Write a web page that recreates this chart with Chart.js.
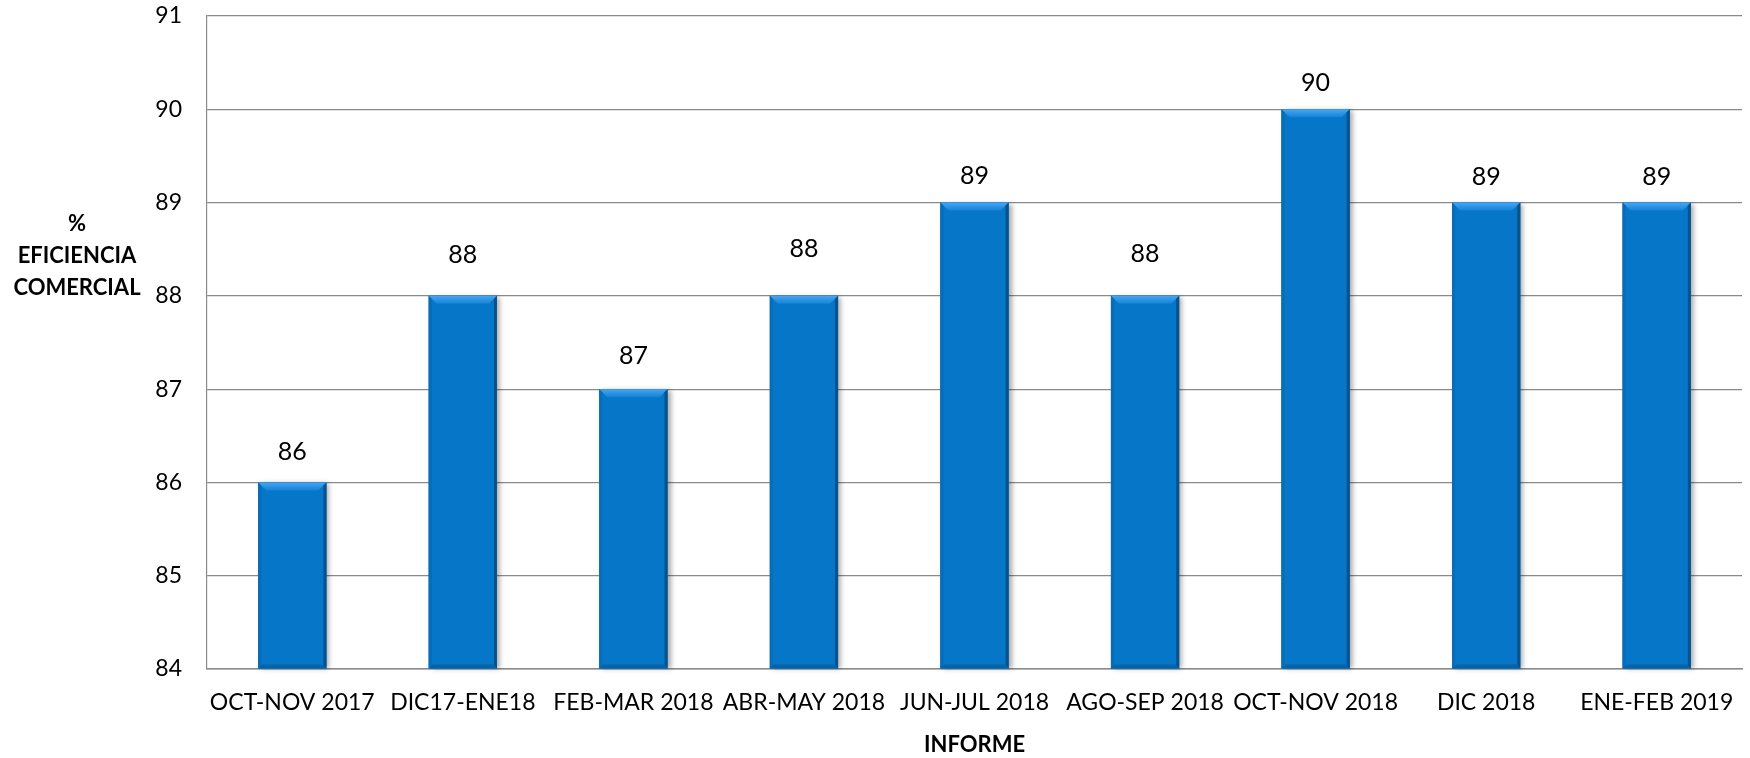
<!DOCTYPE html>
<html>
<head>
<meta charset="utf-8">
<script src="https://cdn.jsdelivr.net/npm/chart.js@4.4.1/dist/chart.umd.min.js"></script>
<style>
  body { margin: 0; background: #fff; }
  #wrap { width: 1750px; height: 758px; }
</style>
</head>
<body>
<div id="wrap"><canvas id="grafico" width="1750" height="758"></canvas></div>
<script>
// Datos
var categorias = ['OCT-NOV 2017', 'DIC17-ENE18', 'FEB-MAR 2018', 'ABR-MAY 2018', 'JUN-JUL 2018',
                  'AGO-SEP 2018', 'OCT-NOV 2018', 'DIC 2018', 'ENE-FEB 2019'];
var eficiencia = [86, 88, 87, 88, 89, 88, 90, 89, 89];
var yMin = 84, yMax = 91, yPaso = 1;
var tituloY = ['%', 'EFICIENCIA', 'COMERCIAL'];
var tituloX = 'INFORME';

// Separacion de cada etiqueta sobre su barra (px)
var elevacion = [30, 41, 33, 47, 27, 42, 26, 26, 26];

var fuente = 'Lato, "Open Sans", sans-serif';
var gris = '#8A8A8A';

// Sombra, bisel y etiquetas de las barras
var biselPlugin = {
    id: 'bisel',
    beforeDatasetsDraw: function(chart) {
        var ctx = chart.ctx;
        ctx.save();
        ctx.shadowColor = 'rgba(0,0,0,0.35)';
        ctx.shadowBlur = 5;
        ctx.shadowOffsetX = 3;
        ctx.shadowOffsetY = 1;
        ctx.fillStyle = '#0676C9';
        chart.getDatasetMeta(0).data.forEach(function(b) {
            ctx.fillRect(b.x - b.width / 2, b.y, b.width, b.base - b.y);
        });
        ctx.restore();
    },
    afterDatasetsDraw: function(chart) {
        var ctx = chart.ctx;
        var s = 8;
        ctx.save();
        chart.getDatasetMeta(0).data.forEach(function(b, i) {
            var l = b.x - b.width / 2, r = b.x + b.width / 2, t = b.y, bs = b.base;
            // arriba
            var g = ctx.createLinearGradient(0, t, 0, t + s);
            g.addColorStop(0, '#47A6F0');
            g.addColorStop(1, '#1582D6');
            ctx.fillStyle = g;
            ctx.beginPath();
            ctx.moveTo(l, t); ctx.lineTo(r, t); ctx.lineTo(r - s, t + s); ctx.lineTo(l + s, t + s);
            ctx.closePath(); ctx.fill();
            // izquierda
            ctx.fillStyle = '#0A6BB6';
            ctx.beginPath();
            ctx.moveTo(l, t); ctx.lineTo(l + 3, t + 3); ctx.lineTo(l + 3, bs - 3); ctx.lineTo(l, bs);
            ctx.closePath(); ctx.fill();
            // derecha
            ctx.fillStyle = '#08528C';
            ctx.beginPath();
            ctx.moveTo(r, t); ctx.lineTo(r - 3, t + 3); ctx.lineTo(r - 3, bs - 3); ctx.lineTo(r, bs);
            ctx.closePath(); ctx.fill();
            // abajo
            ctx.fillStyle = '#0763A8';
            ctx.beginPath();
            ctx.moveTo(l, bs); ctx.lineTo(r, bs); ctx.lineTo(r - 4, bs - 4); ctx.lineTo(l + 4, bs - 4);
            ctx.closePath(); ctx.fill();

            // etiqueta
            ctx.fillStyle = '#000';
            ctx.font = '25px ' + fuente;
            ctx.textAlign = 'center';
            ctx.textBaseline = 'middle';
            ctx.fillText(eficiencia[i], b.x, t - elevacion[i]);
        });
        ctx.restore();
    },
    afterDraw: function(chart) {
        var ctx = chart.ctx;
        ctx.save();
        ctx.fillStyle = '#000';
        ctx.font = 'bold 22px ' + fuente;
        ctx.textAlign = 'center';
        ctx.textBaseline = 'middle';
        tituloY.forEach(function(linea, i) {
            ctx.fillText(linea, 77, 224 + i * 32);
        });
        ctx.restore();
    }
};

new Chart(document.getElementById('grafico'), {
    type: 'bar',
    data: {
        labels: categorias,
        datasets: [{
            data: eficiencia,
            base: yMin,
            backgroundColor: '#0676C9',
            borderWidth: 0,
            barPercentage: 0.4,
            categoryPercentage: 1
        }]
    },
    options: {
        responsive: false,
        animation: false,
        layout: { padding: { top: 16, right: 8, left: 0, bottom: 0 } },
        plugins: {
            legend: { display: false },
            tooltip: { enabled: false }
        },
        scales: {
            x: {
                grid: { display: false, drawTicks: false },
                border: { display: true, color: gris, width: 1.5 },
                ticks: { color: '#000', font: { family: fuente, size: 23 }, padding: 20, maxRotation: 0, autoSkip: false },
                title: { display: true, text: tituloX, color: '#000', font: { family: fuente, size: 22, weight: 'bold' }, padding: { top: 0, bottom: 0 } },
                afterFit: function(scale) {
                    scale.height = 89;
                    scale.paddingLeft = 0;
                    scale.paddingRight = 0;
                }
            },
            y: {
                min: yMin,
                max: yMax,
                beginAtZero: false,
                grid: { color: gris, lineWidth: 1.2, drawTicks: false },
                border: { display: true, color: gris, width: 1.2 },
                ticks: { stepSize: yPaso, color: '#000', font: { family: fuente, size: 23 }, padding: 25 },
                afterFit: function(scale) {
                    scale.width = 207;
                    scale.paddingTop = 0;
                    scale.paddingBottom = 0;
                }
            }
        }
    },
    plugins: [biselPlugin]
});
</script>
</body>
</html>
